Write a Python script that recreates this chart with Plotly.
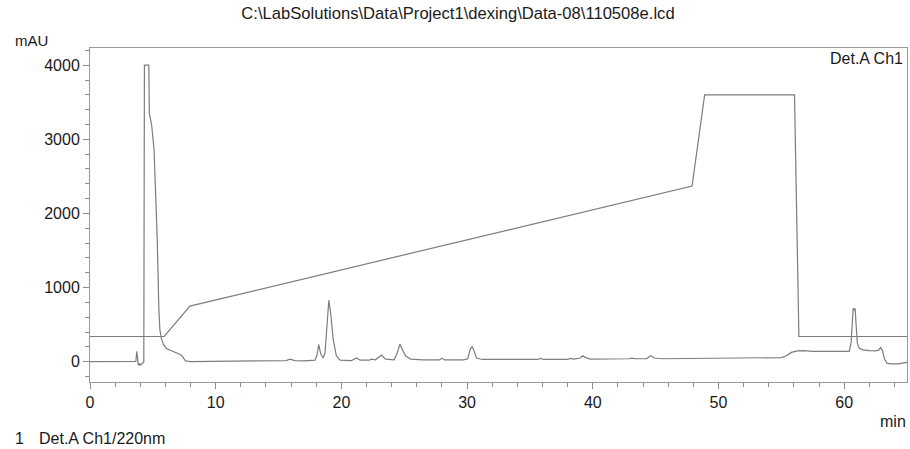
import plotly.graph_objects as go

# ---- data ----
chrom_time = [0, 3.5, 3.65, 3.72, 3.78, 3.85, 3.92, 3.98, 4.05, 4.28, 4.33, 4.68, 4.72, 4.9, 5.1, 5.25,
              5.35, 5.47, 5.56, 5.7, 5.85, 6.1, 6.6, 6.9, 7.15, 7.3, 7.6, 8.0, 15.0, 15.6, 15.9, 16.3,
              17.0, 17.9, 18.05, 18.2, 18.35, 18.55, 18.7, 18.85, 19.0, 19.15, 19.35, 19.6, 19.9, 20.8,
              21.2, 21.5, 22.2, 22.4, 22.7, 23.2, 23.5, 24.2, 24.45, 24.65, 24.85, 25.1, 25.5, 26.5,
              27.8, 28.0, 28.2, 29.2, 29.4, 29.7, 30.05, 30.25, 30.4, 30.55, 30.75, 31.2, 35.6, 35.85,
              36.1, 38.0, 38.2, 38.5, 39.0, 39.2, 39.45, 39.8, 42.9, 43.1, 43.4, 44.3, 44.6, 44.9, 45.5,
              52.0, 55.0, 55.4, 55.8, 56.3, 56.8, 57.5, 60.0, 60.4, 60.55, 60.65, 60.72, 60.8, 60.87,
              60.95, 61.05, 61.2, 61.5, 62.0, 62.5, 62.75, 62.9, 63.05, 63.2, 63.4, 63.7, 64.3, 65.0]
chrom_mau = [0, 0, 5, 140, 60, -50, -20, -45, -40, 0, 4000, 4000, 3350, 3200, 2850, 2200,
             1650, 750, 430, 300, 230, 175, 140, 120, 100, 80, 10, 0, 5, 15, 35, 15,
             10, 20, 80, 230, 110, 50, 120, 550, 830, 650, 300, 80, 20, 15,
             50, 20, 20, 35, 25, 90, 35, 25, 120, 235, 170, 80, 35, 25,
             25, 45, 25, 25, 35, 25, 40, 170, 200, 150, 50, 30, 30, 45,
             30, 30, 45, 35, 50, 80, 55, 35, 40, 48, 40, 42, 80, 50, 40,
             45, 55, 80, 125, 145, 150, 140, 135, 140, 250, 600, 720, 690, 720,
             500, 250, 180, 160, 150, 145, 155, 190, 150, 40, -20, -30, -30, -10]

grad_time = [0, 5.9, 7.95, 47.9, 48.9, 56.05, 56.4, 65]
grad_mau = [340, 340, 750, 2370, 3600, 3600, 340, 340]

x_ticks = [0, 10, 20, 30, 40, 50, 60]
y_ticks = [0, 1000, 2000, 3000, 4000]

title_text = "C:\\LabSolutions\\Data\\Project1\\dexing\\Data-08\\110508e.lcd"

# ---- layout geometry ----
W, H = 910, 449
ML, MR, MT, MB = 90, 3, 48, 67
PW, PH = W - ML - MR, H - MT - MB

def px(x):
    return (x - ML) / PW

def py(y):
    return (H - MB - y) / PH

FONT = "Liberation Sans, Arial, sans-serif"
LINE = "#7d7d7d"
TXT = "#1a1a1a"

fig = go.Figure()
fig.add_trace(go.Scatter(x=grad_time, y=grad_mau, mode="lines",
                         line=dict(color=LINE, width=1.2), hoverinfo="skip", showlegend=False))
fig.add_trace(go.Scatter(x=chrom_time, y=chrom_mau, mode="lines",
                         line=dict(color=LINE, width=1.2), showlegend=False))

axis_common = dict(showgrid=False, zeroline=False, showline=True, mirror=True,
                   linecolor="#9a9a9a", linewidth=1, ticks="outside", tickcolor="#8a8a8a",
                   ticklen=6, tickwidth=1, tickfont=dict(family=FONT, size=16, color=TXT))

fig.update_layout(
    width=W, height=H,
    margin=dict(l=ML, r=MR, t=MT, b=MB),
    paper_bgcolor="white", plot_bgcolor="white",
    font=dict(family=FONT, color=TXT),
    title=dict(text=title_text, x=458 / W, xref="container", xanchor="center",
               y=1 - 13 / H, yref="container", yanchor="middle",
               font=dict(family=FONT, size=16.6, color=TXT)),
    xaxis=dict(range=[0, 65], tickvals=x_ticks,
               minor=dict(dtick=2, ticks="outside", ticklen=4, tickcolor="#8a8a8a"),
               **axis_common),
    yaxis=dict(range=[-274, 4232], tickvals=y_ticks,
               minor=dict(dtick=200, ticks="outside", ticklen=4, tickcolor="#8a8a8a"),
               **axis_common),
)

ann = [
    dict(text="mAU", x=px(13), y=py(40), xanchor="left", size=15),
    dict(text="Det.A Ch1", x=px(905), y=py(58), xanchor="right", size=16),
    dict(text="min", x=px(908), y=py(421), xanchor="right", size=16),
    dict(text="1", x=px(13), y=py(438), xanchor="left", size=16),
    dict(text="Det.A Ch1/220nm", x=px(37), y=py(438), xanchor="left", size=16),
]
for a in ann:
    fig.add_annotation(text=a["text"], x=a["x"], y=a["y"], xref="paper", yref="paper",
                       xanchor=a["xanchor"], yanchor="middle", showarrow=False,
                       font=dict(family=FONT, size=a["size"], color=TXT))

fig.write_html("out.html", config={"displayModeBar": False},
               post_script="document.body.style.margin='0';document.body.style.overflow='hidden';")
